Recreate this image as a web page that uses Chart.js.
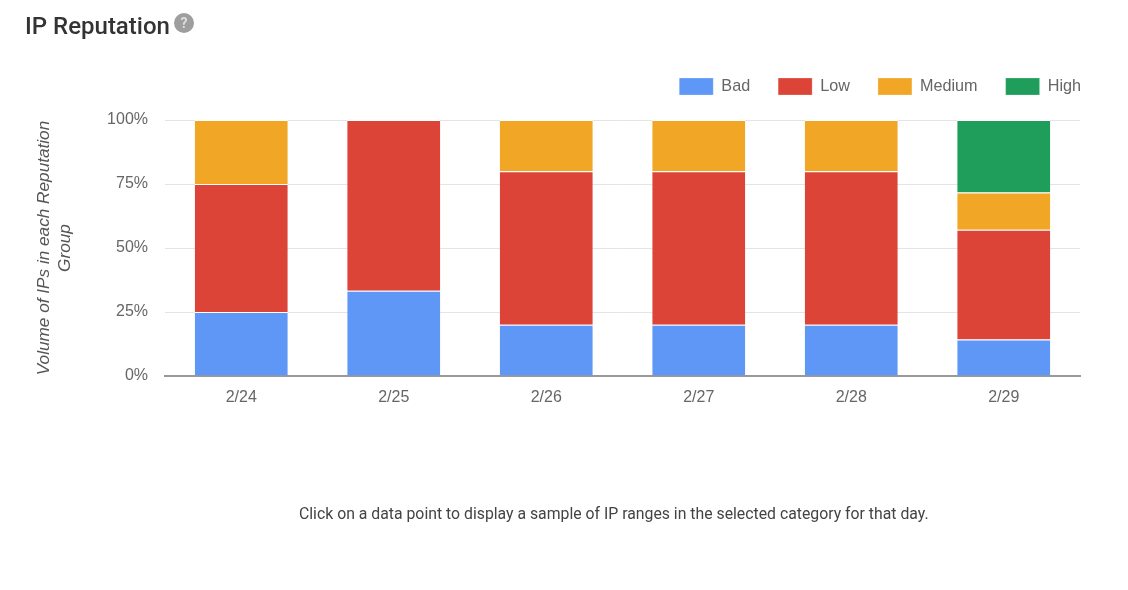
<!DOCTYPE html>
<html>
<head>
<meta charset="utf-8">
<title>IP Reputation</title>
<script src="https://cdn.jsdelivr.net/npm/chart.js@4/dist/chart.umd.min.js"></script>
<style>
    html, body { margin: 0; background: #fff; overflow: hidden; }
    #box { position: relative; width: 1128px; height: 590px; filter: blur(0.45px); }
    #grafico { position: absolute; left: 0; top: 0; }
    #titulo { position: absolute; left: 25px; top: 12px; font: 500 24px Roboto, sans-serif; color: #333; white-space: nowrap; }
    #ajuda {
        position: absolute; left: 174px; top: 13px; width: 20px; height: 20px; border-radius: 50%;
        background: #9e9e9e; color: #ddd; font: bold 14px/20px Roboto, sans-serif; text-align: center;
    }
    #nota { position: absolute; left: 299px; top: 504px; font: 15.8px Roboto, sans-serif; color: #444; white-space: nowrap; }
</style>
</head>
<body>
<div id="box">
    <canvas id="grafico" width="1128" height="590"></canvas>
    <div id="titulo">IP Reputation</div>
    <div id="ajuda">?</div>
    <div id="nota">Click on a data point to display a sample of IP ranges in the selected category for that day.</div>
</div>
<script>
var dias = ['2/24', '2/25', '2/26', '2/27', '2/28', '2/29'];
var bad = [25, 33.3, 20, 20, 20, 14.3];
var low = [50, 66.7, 60, 60, 60, 42.8];
var medium = [25, 0, 20, 20, 20, 14.6];
var high = [0, 0, 0, 0, 0, 28.3];

var fonte = 'Liberation Sans, Arial, sans-serif';

function serie(nome, valores, cor) {
    return {
        label: nome,
        data: valores,
        backgroundColor: cor,
        borderColor: '#fff',
        borderWidth: { top: 1 },
        borderSkipped: false,
        barPercentage: 0.61,
        categoryPercentage: 1
    };
}

// legenda fica mais alta e encostada na direita do grafico
var moverLegenda = {
    id: 'moverLegenda',
    afterLayout: function (chart) {
        chart.legend.left += 29;
        chart.legend.right += 29;
        chart.legend.top -= 15;
        chart.legend.bottom -= 15;
    }
};

var ctx = document.getElementById('grafico').getContext('2d');
new Chart(ctx, {
    type: 'bar',
    plugins: [moverLegenda],
    data: {
        labels: dias,
        datasets: [
            serie('Bad', bad, '#5e97f6'),
            serie('Low', low, '#db4437'),
            serie('Medium', medium, '#f2a626'),
            serie('High', high, '#1f9d5a')
        ]
    },
    options: {
        responsive: false,
        animation: false,
        layout: { padding: { left: 32, right: 48, top: 65, bottom: 174 } },
        plugins: {
            tooltip: { enabled: false },
            legend: {
                position: 'top',
                align: 'end',
                labels: {
                    boxWidth: 34,
                    boxHeight: 17,
                    padding: 28,
                    color: '#666',
                    font: { family: fonte, size: 16.2 }
                }
            }
        },
        scales: {
            x: {
                stacked: true,
                grid: { display: false },
                border: { color: '#999', width: 2 },
                ticks: { color: '#666', padding: 4, font: { family: fonte, size: 16 } },
                afterFit: function (scale) { scale.height = 40; }
            },
            y: {
                stacked: true,
                min: 0,
                max: 100,
                border: { display: false },
                grid: { color: '#e4e4e4', drawTicks: false },
                afterFit: function (scale) { scale.width = 133; },
                ticks: {
                    stepSize: 25,
                    color: '#666',
                    padding: 17,
                    font: { family: fonte, size: 16 },
                    callback: function (v) { return v + '%'; }
                },
                title: {
                    display: true,
                    text: ['Volume of IPs in each Reputation', 'Group'],
                    color: '#555',
                    padding: { top: 1, bottom: 0 },
                    font: { family: fonte, size: 17.2, style: 'italic', lineHeight: 1.25 }
                }
            }
        }
    }
});
</script>
</body>
</html>
